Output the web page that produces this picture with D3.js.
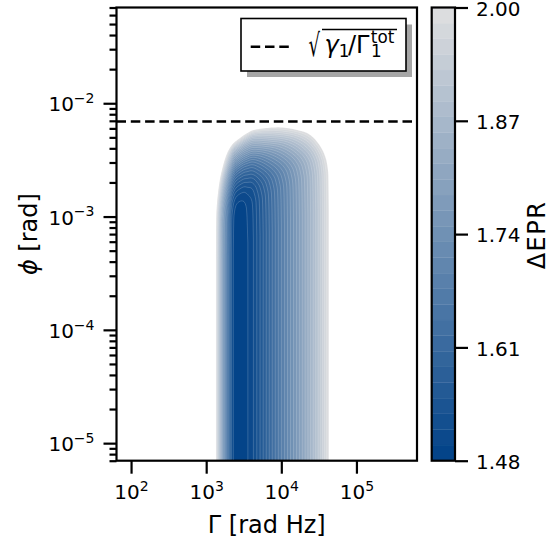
<!DOCTYPE html>
<html>
<head>
<meta charset="utf-8">
<script src="https://cdn.jsdelivr.net/npm/d3@7"></script>
<style>
  html, body { margin: 0; padding: 0; background: #fff; }
  svg { display: block; font-family: "DejaVu Sans", sans-serif; }
</style>
</head>
<body>
<svg id="chart" width="550" height="544"></svg>
<script>
// ---- data -------------------------------------------------------------
// Axis limits
const gammaDomain = [64, 6.4e5];      // Γ [rad Hz]
const phiDomain = [7e-6, 7e-2];       // ϕ [rad]

// ΔEPR at vanishing phase, sampled along log10 Γ
const gammaLog = [3.00, 3.10, 3.13, 3.16, 3.20, 3.25, 3.30, 3.35, 3.40, 3.43, 3.46, 3.50,
                  3.55, 3.60, 3.70, 3.80, 3.90, 4.00, 4.10, 4.20, 4.30, 4.40, 4.50, 4.60,
                  4.632, 4.70, 4.80];
const eprFloor = [2.50, 2.10, 2.00, 1.90, 1.78, 1.66, 1.565, 1.505, 1.482, 1.480, 1.481, 1.485,
                  1.497, 1.507, 1.545, 1.588, 1.633, 1.677, 1.721, 1.766, 1.813, 1.862, 1.917, 1.980,
                  2.00, 2.06, 2.16];

// Phase scale (log10 offset) at which the ΔEPR rise sets in, along log10 Γ
const shiftLog = [3.0, 3.2, 3.4, 3.6, 3.8, 4.0, 4.2, 4.4, 4.6, 4.8];
const phaseShift = [-0.15, -0.08, -0.01, 0.09, 0.16, 0.23, 0.29, 0.34, 0.36, 0.38];

// ΔEPR increase with phase, vs log10 ϕ relative to that scale
const riseLog = [-3.30, -3.00, -2.875, -2.80, -2.70, -2.60, -2.50, -2.40, -2.32, -2.25, -2.15, -2.00, -1.50];
const eprRise = [0, 0.004, 0.018, 0.04, 0.09, 0.16, 0.26, 0.38, 0.52, 0.68, 1.0, 1.6, 5.0];

// Threshold line and colour scale
const phiThreshold = 6.9e-3;          // sqrt(γ1 / Γ1^tot)
const eprMin = 1.48, eprMax = 2.00;
const bandCount = 29;
const cbarTicks = [1.48, 1.61, 1.74, 1.87, 2.00];
const xTicks = [1e2, 1e3, 1e4, 1e5];
const yTicks = [1e-5, 1e-4, 1e-3, 1e-2];
const cmapDark = "rgb(4,68,137)", cmapLight = "rgb(220,221,223)";

// ---- helpers ----------------------------------------------------------
// Monotone cubic (Fritsch–Carlson) interpolation, clamped outside the knots
function monotone(xs, ys) {
  const n = xs.length, d = [], m = new Array(n);
  for (let i = 0; i < n - 1; i++) d.push((ys[i + 1] - ys[i]) / (xs[i + 1] - xs[i]));
  m[0] = d[0]; m[n - 1] = d[n - 2];
  for (let i = 1; i < n - 1; i++) {
    if (d[i - 1] * d[i] <= 0) { m[i] = 0; continue; }
    const h0 = xs[i] - xs[i - 1], h1 = xs[i + 1] - xs[i];
    const w1 = 2 * h1 + h0, w2 = h1 + 2 * h0;
    m[i] = (w1 + w2) / (w1 / d[i - 1] + w2 / d[i]);
  }
  return function (t) {
    if (t <= xs[0]) return ys[0];
    if (t >= xs[n - 1]) return ys[n - 1];
    let lo = 0, hi = n - 1;
    while (hi - lo > 1) { const mid = (lo + hi) >> 1; if (xs[mid] <= t) lo = mid; else hi = mid; }
    const h = xs[hi] - xs[lo], s = (t - xs[lo]) / h;
    const s2 = s * s, s3 = s2 * s;
    return (2 * s3 - 3 * s2 + 1) * ys[lo] + (s3 - 2 * s2 + s) * h * m[lo] +
           (-2 * s3 + 3 * s2) * ys[hi] + (s3 - s2) * h * m[hi];
  };
}

// ---- layout -----------------------------------------------------------
const svg = d3.select("#chart");
const plot = { left: 116.5, right: 417, top: 7.5, bottom: 460.7 };
const cbar = { left: 431.7, right: 455 };
const font = "DejaVu Sans";

const x = d3.scaleLog().domain(gammaDomain).range([plot.left, plot.right]);
const y = d3.scaleLog().domain(phiDomain).range([plot.bottom, plot.top]);
const c = d3.scaleLinear().domain([eprMin, eprMax]).range([plot.bottom, plot.top]);

const step = (eprMax - eprMin) / bandCount;
const levels = d3.range(bandCount + 1).map(k => eprMin + k * step);
const bandColor = b => d3.interpolateRgb(cmapDark, cmapLight)(b / (bandCount - 1));

// ---- ΔEPR field on a pixel grid ----------------------------------------
const floorAt = monotone(gammaLog, eprFloor);
const shiftAt = monotone(shiftLog, phaseShift);
const riseAt = monotone(riseLog, eprRise);

const nx = Math.round(plot.right - plot.left), ny = Math.round(plot.bottom - plot.top);
const colFloor = new Float64Array(nx), colShift = new Float64Array(nx);
for (let i = 0; i < nx; i++) {
  const lg = Math.log10(x.invert(plot.left + i + 0.5));
  colFloor[i] = floorAt(lg);
  colShift[i] = shiftAt(lg);
}
const grid = new Float64Array(nx * ny);
for (let j = 0; j < ny; j++) {
  const lp = Math.log10(y.invert(plot.top + j + 0.5));
  for (let i = 0; i < nx; i++) grid[j * nx + i] = -(colFloor[i] + riseAt(lp - colShift[i]));
}

// filled contours: region ΔEPR <= level, largest first
const thresholds = levels.slice(1).reverse().map(v => -v);
const contours = d3.contours().size([nx, ny]).thresholds(thresholds)(grid);

svg.append("defs").append("clipPath").attr("id", "plotClip")
  .append("rect").attr("x", plot.left).attr("y", plot.top)
  .attr("width", plot.right - plot.left).attr("height", plot.bottom - plot.top);

svg.append("g")
  .attr("clip-path", "url(#plotClip)")
  .append("g")
  .attr("transform", `translate(${plot.left},${plot.top})`)
  .selectAll("path")
  .data(contours)
  .join("path")
  .attr("d", d3.geoPath())
  .attr("fill", d => bandColor(Math.round((-d.value - eprMin) / step) - 1))
  .attr("stroke", "#fff")
  .attr("stroke-opacity", 0.3)
  .attr("stroke-width", 0.6);

// ---- threshold line ----------------------------------------------------
svg.append("line")
  .attr("x1", plot.left).attr("x2", plot.right)
  .attr("y1", y(phiThreshold)).attr("y2", y(phiThreshold))
  .attr("stroke", "#000").attr("stroke-width", 2.5)
  .attr("stroke-dasharray", "9.5 4.8");

// ---- axes ---------------------------------------------------------------
const tickW = 2.2;
const xAxis = svg.append("g").attr("transform", `translate(0,${plot.bottom})`)
  .call(d3.axisBottom(x).tickValues(xTicks).tickSize(13).tickFormat(""));
xAxis.select(".domain").remove();
xAxis.selectAll(".tick line").attr("stroke-width", tickW);
xAxis.selectAll(".tick").append("text")
  .attr("y", 499.5 - plot.bottom).attr("text-anchor", "middle")
  .attr("fill", "#000").style("font-family", font)
  .each(function (d) {
    const t = d3.select(this);
    t.append("tspan").attr("font-size", 20).text("10");
    t.append("tspan").attr("font-size", 14).attr("dy", -8).text(String(Math.round(Math.log10(d))).replace("-", "\u2212"));
  });

const yMinor = [];
for (let e = -6; e <= -2; e++) for (let k = 2; k <= 9; k++) {
  const v = k * Math.pow(10, e);
  if (v >= phiDomain[0] * 0.999 && v <= phiDomain[1] * 1.001) yMinor.push(v);
}
const yMinorAxis = svg.append("g").attr("transform", `translate(${plot.left},0)`)
  .call(d3.axisLeft(y).tickValues(yMinor).tickSize(7).tickFormat(""));
yMinorAxis.select(".domain").remove();
yMinorAxis.selectAll(".tick line").attr("stroke-width", tickW);

const yAxis = svg.append("g").attr("transform", `translate(${plot.left},0)`)
  .call(d3.axisLeft(y).tickValues(yTicks).tickSize(13).tickFormat(""));
yAxis.select(".domain").remove();
yAxis.selectAll(".tick line").attr("stroke-width", tickW);
yAxis.selectAll(".tick").append("text")
  .attr("x", 94.5 - plot.left).attr("y", 7.7).attr("text-anchor", "end")
  .attr("fill", "#000").style("font-family", font)
  .each(function (d) {
    const t = d3.select(this);
    t.append("tspan").attr("font-size", 20).text("10");
    t.append("tspan").attr("font-size", 14).attr("dy", -8.5).text(String(Math.round(Math.log10(d))).replace("-", "\u2212"));
  });

// axis labels
svg.append("text")
  .attr("x", (plot.left + plot.right) / 2).attr("y", 533)
  .attr("text-anchor", "middle").attr("font-size", 24).style("font-family", font)
  .text("\u0393 [rad Hz]");

const yl = svg.append("text")
  .attr("transform", `translate(37,${(plot.top + plot.bottom) / 2}) rotate(-90)`)
  .attr("text-anchor", "middle").attr("font-size", 24).style("font-family", font);
yl.append("tspan").attr("font-style", "italic").text("\u03D5");
yl.append("tspan").text(" [rad]");

// plot frame
svg.append("rect")
  .attr("x", plot.left).attr("y", plot.top)
  .attr("width", plot.right - plot.left).attr("height", plot.bottom - plot.top)
  .attr("fill", "none").attr("stroke", "#000").attr("stroke-width", 2.2);

// ---- legend -------------------------------------------------------------
const lg = { x: 241, y: 18.5, w: 165, h: 52.5 };
svg.append("rect").attr("x", lg.x + 6).attr("y", lg.y + 6).attr("width", lg.w).attr("height", lg.h)
  .attr("fill", "#a6a6a6");
svg.append("rect").attr("x", lg.x).attr("y", lg.y).attr("width", lg.w).attr("height", lg.h)
  .attr("fill", "#fff").attr("stroke", "#000").attr("stroke-width", 1.6);
svg.append("line").attr("x1", 250.7).attr("x2", 290).attr("y1", 46.7).attr("y2", 46.7)
  .attr("stroke", "#000").attr("stroke-width", 2.5).attr("stroke-dasharray", "9.5 4.8");

const math = svg.append("g").style("font-family", font).attr("fill", "#000");
math.append("text").attr("transform", "translate(308.5,56) scale(0.75,1.3)")
  .attr("font-size", 24).text("\u221A");
math.append("line").attr("x1", 322).attr("x2", 397).attr("y1", 29.5).attr("y2", 29.5)
  .attr("stroke", "#000").attr("stroke-width", 1.4);
const expr = math.append("text").attr("x", 324.5).attr("y", 53.3).attr("font-size", 24);
expr.append("tspan").attr("font-style", "italic").text("\u03B3");
expr.append("tspan").attr("font-size", 16.8).attr("dy", 4).text("1");
expr.append("tspan").attr("dy", -4).attr("dx", -1.5).text("/");
expr.append("tspan").text("\u0393");
expr.append("tspan").attr("font-size", 16.8).attr("dy", -10).attr("dx", 1.5).text("tot");
expr.append("tspan").attr("font-size", 16.8).attr("x", 371).attr("dy", 14).text("1");

// ---- colour bar ---------------------------------------------------------
svg.append("g").selectAll("rect")
  .data(d3.range(bandCount))
  .join("rect")
  .attr("x", cbar.left).attr("width", cbar.right - cbar.left)
  .attr("y", b => c(levels[b + 1])).attr("height", b => c(levels[b]) - c(levels[b + 1]))
  .attr("fill", b => bandColor(b))
  .attr("stroke", b => bandColor(b)).attr("stroke-width", 0.3);

const cAxis = svg.append("g").attr("transform", `translate(${cbar.right},0)`)
  .call(d3.axisRight(c).tickValues(cbarTicks).tickSize(13).tickPadding(8).tickFormat(d3.format(".2f")));
cAxis.select(".domain").remove();
cAxis.selectAll(".tick line").attr("stroke-width", tickW);
cAxis.selectAll(".tick text").attr("font-size", 20).style("font-family", font).attr("dy", "0.38em");

svg.append("rect")
  .attr("x", cbar.left).attr("y", plot.top)
  .attr("width", cbar.right - cbar.left).attr("height", plot.bottom - plot.top)
  .attr("fill", "none").attr("stroke", "#000").attr("stroke-width", 2.2);

svg.append("text")
  .attr("transform", `translate(545,235) rotate(-90)`)
  .attr("text-anchor", "middle").attr("font-size", 24).attr("letter-spacing", 1.5)
  .style("font-family", font)
  .text("\u0394EPR");
</script>
</body>
</html>
